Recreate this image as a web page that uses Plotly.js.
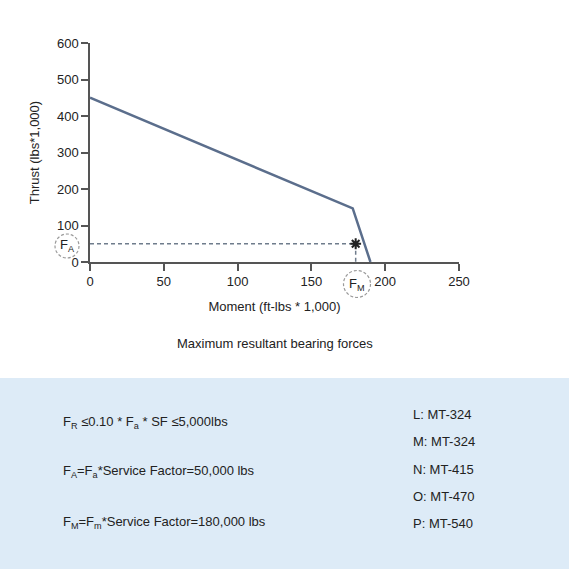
<!DOCTYPE html>
<html>
<head>
<meta charset="utf-8">
<script src="https://cdn.plot.ly/plotly-3.0.1.min.js"></script>
<style>html,body{margin:0;padding:0;background:#fff}#chart{width:569px;height:569px}</style>
</head>
<body>
<div id="chart"></div>
<script>
// ---- data ----
var curveX = [0, 178, 190];
var curveY = [450, 147, 0];
var faValue = 50;     // thrust (lbs*1,000)
var fmValue = 180;    // moment (ft-lbs*1,000)
var hLineX = [0, fmValue];
var hLineY = [faValue, faValue];
var vLineX = [fmValue, fmValue];
var vLineY = [faValue, 0];
var xTicks = [0, 50, 100, 150, 200, 250];
var yTicks = [0, 100, 200, 300, 400, 500, 600];
var formulaLines = [
  "F<sub>R</sub> \u22640.10 * F<sub>a</sub> * SF \u22645,000lbs",
  "F<sub>A</sub>=F<sub>a</sub>*Service Factor=50,000 lbs",
  "F<sub>M</sub>=F<sub>m</sub>*Service Factor=180,000 lbs"
];
var modelLines = ["L: MT-324", "M: MT-324", "N: MT-415", "O: MT-470", "P: MT-540"];

// ---- layout helpers (pixel -> paper) ----
var L = 90, T = 43, W = 369, H = 219;
function px(x){ return (x - L) / W; }
function py(y){ return (T + H - y) / H; }

var font = {family: "Liberation Sans", size: 13, color: "#222"};

var traces = [
  {x: curveX, y: curveY, mode: "lines", line: {color: "#5b6e8c", width: 2.5}, cliponaxis: false, hoverinfo: "skip"},
  {x: hLineX, y: hLineY, mode: "lines", line: {color: "#6f7c8c", width: 1.5, dash: "4px,3px"}, cliponaxis: false},
  {x: vLineX, y: vLineY, mode: "lines", line: {color: "#6f7c8c", width: 1.5, dash: "4px,3px"}, cliponaxis: false},
  {x: [fmValue], y: [faValue], mode: "markers", marker: {symbol: "asterisk-open", size: 9, color: "#222", line: {color: "#222", width: 2}}, cliponaxis: false}
];

var annotations = [
  {xref: "paper", yref: "paper", x: px(275), y: py(343), text: "Maximum resultant bearing forces", showarrow: false, font: font, xanchor: "center", yanchor: "middle"},
  {xref: "paper", yref: "paper", x: px(67), y: py(245), text: "F<sub>A</sub>", showarrow: false, font: font, xanchor: "center", yanchor: "middle"},
  {xref: "paper", yref: "paper", x: px(357), y: py(284), text: "F<sub>M</sub>", showarrow: false, font: font, xanchor: "center", yanchor: "middle"}
];
var formulaY = [422, 472, 522];
formulaLines.forEach(function(t, i){
  annotations.push({xref: "paper", yref: "paper", x: px(61), y: py(formulaY[i]), text: t, showarrow: false, font: font, xanchor: "left", yanchor: "middle"});
});
var modelY = [414, 441.5, 469, 496.5, 523.5];
modelLines.forEach(function(t, i){
  annotations.push({xref: "paper", yref: "paper", x: px(411), y: py(modelY[i]), text: t, showarrow: false, font: font, xanchor: "left", yanchor: "middle"});
});

function circ(cx, cy, r){
  return {type: "circle", xref: "paper", yref: "paper",
    x0: px(cx - r), x1: px(cx + r), y0: py(cy + r), y1: py(cy - r),
    line: {color: "#9a9a9a", width: 1.2, dash: "3px,2px"}};
}

var shapes = [
  {type: "rect", xref: "paper", yref: "paper", x0: px(0), x1: px(569), y0: py(569), y1: py(378), fillcolor: "#ddebf7", line: {width: 0}, layer: "below"},
  circ(67, 246, 12),
  circ(357, 284, 13.5)
];

var layout = {
  width: 569, height: 569,
  margin: {l: L, r: 569 - L - W, t: T, b: 569 - T - H},
  paper_bgcolor: "#ffffff", plot_bgcolor: "rgba(0,0,0,0)",
  showlegend: false,
  font: font,
  xaxis: {range: [0, 250], tickvals: xTicks, ticktext: xTicks.map(String), ticks: "outside", ticklen: 7, tickwidth: 1.5, tickcolor: "#555",
    showline: true, linecolor: "#555", linewidth: 1.5, showgrid: false, zeroline: false, fixedrange: true,
    title: {text: "Moment (ft-lbs * 1,000)", font: font, standoff: 14}},
  yaxis: {range: [0, 600], tickvals: yTicks, ticktext: yTicks.map(String), ticks: "outside", ticklen: 7, tickwidth: 1.5, tickcolor: "#555",
    showline: true, linecolor: "#555", linewidth: 1.5, showgrid: false, zeroline: false, fixedrange: true,
    title: {text: "Thrust (lbs*1,000)", font: font, standoff: 14}},
  annotations: annotations,
  shapes: shapes
};

Plotly.newPlot("chart", traces, layout, {displayModeBar: false});
</script>
</body>
</html>
